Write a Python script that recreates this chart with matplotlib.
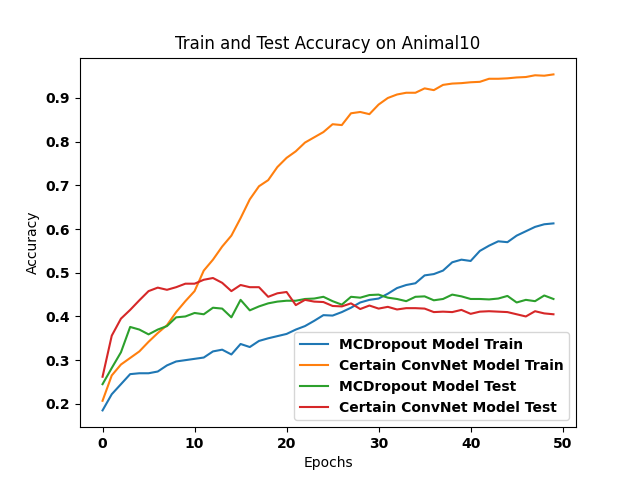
import matplotlib
matplotlib.use("Agg")
import matplotlib.pyplot as plt
import numpy as np

epochs = np.arange(50)

mc_train = [0.185, 0.222, 0.245, 0.268, 0.270, 0.270, 0.274, 0.288, 0.297, 0.300,
            0.303, 0.306, 0.320, 0.324, 0.313, 0.337, 0.330, 0.344, 0.350, 0.355,
            0.360, 0.370, 0.378, 0.390, 0.403, 0.402, 0.410, 0.420, 0.432, 0.438,
            0.441, 0.452, 0.465, 0.472, 0.476, 0.494, 0.497, 0.505, 0.524, 0.530,
            0.527, 0.550, 0.562, 0.572, 0.570, 0.585, 0.595, 0.605, 0.611, 0.613]

cc_train = [0.207, 0.265, 0.290, 0.305, 0.320, 0.342, 0.362, 0.380, 0.410, 0.435,
            0.458, 0.505, 0.530, 0.560, 0.585, 0.625, 0.668, 0.698, 0.712, 0.742,
            0.763, 0.778, 0.798, 0.810, 0.822, 0.840, 0.838, 0.865, 0.868, 0.863,
            0.885, 0.900, 0.908, 0.912, 0.912, 0.922, 0.918, 0.930, 0.933, 0.934,
            0.936, 0.937, 0.944, 0.944, 0.945, 0.947, 0.948, 0.952, 0.951, 0.954]

mc_test = [0.245, 0.282, 0.318, 0.376, 0.370, 0.359, 0.370, 0.378, 0.398, 0.400,
           0.408, 0.405, 0.420, 0.418, 0.398, 0.438, 0.414, 0.423, 0.430, 0.434,
           0.436, 0.436, 0.440, 0.441, 0.445, 0.435, 0.427, 0.445, 0.443, 0.449,
           0.450, 0.443, 0.440, 0.435, 0.445, 0.446, 0.437, 0.440, 0.450, 0.446,
           0.440, 0.440, 0.439, 0.441, 0.447, 0.432, 0.438, 0.435, 0.448, 0.440]

cc_test = [0.262, 0.356, 0.395, 0.415, 0.437, 0.458, 0.466, 0.461, 0.467, 0.475,
           0.475, 0.484, 0.488, 0.477, 0.458, 0.472, 0.467, 0.467, 0.445, 0.453,
           0.456, 0.426, 0.438, 0.434, 0.433, 0.424, 0.423, 0.430, 0.417, 0.425,
           0.418, 0.422, 0.416, 0.419, 0.419, 0.418, 0.410, 0.411, 0.410, 0.415,
           0.406, 0.411, 0.412, 0.411, 0.410, 0.405, 0.400, 0.412, 0.407, 0.405]

plt.figure(figsize=(6.4, 4.8), dpi=100)
plt.plot(epochs, mc_train, label="MCDropout Model Train")
plt.plot(epochs, cc_train, label="Certain ConvNet Model Train")
plt.plot(epochs, mc_test, label="MCDropout Model Test")
plt.plot(epochs, cc_test, label="Certain ConvNet Model Test")
plt.title("Train and Test Accuracy on Animal10")
plt.xlabel("Epochs")
plt.ylabel("Accuracy")
plt.xticks(fontweight="bold")
plt.yticks(fontweight="bold")
plt.legend(prop={"weight": "bold"})
plt.savefig("out.png")
